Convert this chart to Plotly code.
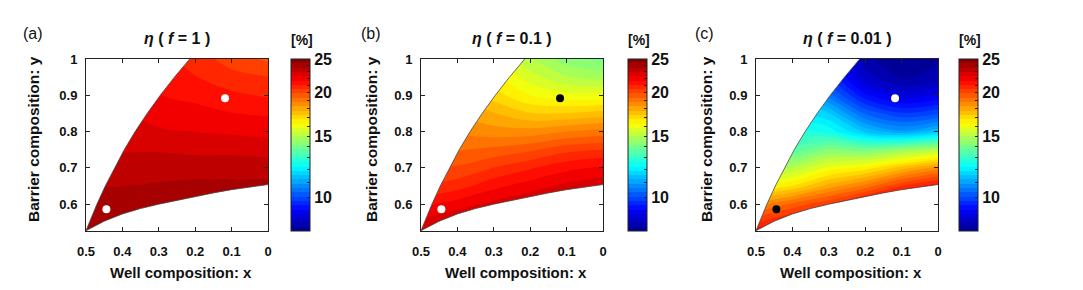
import numpy as np
import plotly.graph_objects as go

# ---------------- data ----------------
XS = [0.0, 0.1, 0.2, 0.3, 0.4, 0.5]                                   # well composition x
YS = [0.50, 0.55, 0.60, 0.65, 0.70, 0.75, 0.80, 0.85, 0.90, 0.95, 1.00]  # barrier composition y

# efficiency eta [%], rows = YS (ascending), columns = XS (ascending)
ETA_F1 = [
    [25.0, 25.0, 25.0, 24.8, 24.6, 24.4],
    [24.8, 24.8, 24.6, 24.5, 24.3, 24.1],
    [24.3, 24.3, 24.2, 24.1, 24.0, 23.9],
    [23.8, 23.8, 23.8, 23.7, 23.6, 23.6],
    [23.3, 23.3, 23.3, 23.3, 23.3, 23.4],
    [22.7, 22.8, 22.8, 22.9, 22.9, 23.1],
    [22.1, 22.2, 22.3, 22.4, 22.6, 22.9],
    [21.6, 21.7, 21.9, 22.0, 22.4, 22.7],
    [21.0, 21.2, 21.5, 21.7, 22.2, 22.5],
    [20.5, 20.7, 21.1, 21.5, 22.0, 22.3],
    [19.8, 20.2, 20.8, 21.3, 21.8, 22.2],
]
ETA_F01 = [
    [25.5, 25.5, 25.0, 24.5, 24.0, 23.5],
    [25.0, 24.5, 24.0, 23.5, 23.0, 22.5],
    [24.0, 23.5, 23.0, 22.5, 22.0, 21.5],
    [22.8, 22.5, 22.0, 21.5, 20.8, 20.5],
    [21.8, 21.5, 21.0, 20.5, 20.0, 20.0],
    [20.5, 20.3, 19.8, 19.5, 19.3, 19.3],
    [19.0, 18.8, 18.5, 18.5, 18.7, 18.8],
    [17.5, 17.3, 17.3, 17.8, 18.2, 18.3],
    [16.0, 16.0, 16.3, 17.0, 17.7, 17.8],
    [14.8, 15.0, 15.6, 16.5, 17.2, 17.3],
    [14.0, 14.3, 15.0, 16.0, 16.8, 17.0],
]
ETA_F001 = [
    [26.0, 26.0, 25.5, 25.0, 24.0, 22.5],
    [25.0, 25.0, 24.0, 23.0, 21.5, 20.5],
    [23.0, 23.0, 22.0, 20.5, 19.5, 18.5],
    [21.5, 20.5, 19.0, 18.0, 16.8, 16.3],
    [18.5, 17.5, 16.5, 16.0, 15.0, 14.5],
    [15.0, 14.5, 14.0, 14.2, 13.5, 13.5],
    [11.5, 11.0, 11.5, 12.5, 12.8, 12.5],
    [10.0, 9.8, 10.3, 11.6, 12.0, 12.0],
    [9.0, 8.8, 9.3, 10.5, 11.5, 11.5],
    [8.3, 8.2, 8.6, 9.8, 11.0, 11.0],
    [8.2, 8.0, 8.3, 9.5, 10.5, 10.5],
]
PANEL_TABLES = [ETA_F1, ETA_F01, ETA_F001]
PANEL_F = ["1", "0.1", "0.01"]
PANEL_TAGS = ["(a)", "(b)", "(c)"]

# boundary of the valid (x, y) region
UPPER_X = [0.500, 0.491, 0.470, 0.447, 0.422, 0.395, 0.365, 0.332, 0.296, 0.257, 0.215]
UPPER_Y = [0.527, 0.550, 0.600, 0.650, 0.700, 0.750, 0.800, 0.850, 0.900, 0.950, 1.000]
LOWER_X = [0.50, 0.45, 0.40, 0.35, 0.30, 0.25, 0.20, 0.15, 0.10, 0.05, 0.00]
LOWER_Y = [0.527, 0.553, 0.573, 0.588, 0.600, 0.611, 0.621, 0.631, 0.640, 0.647, 0.654]

# two marked designs
DOT_X = [0.444, 0.118]
DOT_Y = [0.586, 0.892]
DOT_COLORS = [["white", "white"], ["white", "black"], ["black", "white"]]

X_TICKS = [0.5, 0.4, 0.3, 0.2, 0.1, 0.0]
X_TICKTEXT = ["0.5", "0.4", "0.3", "0.2", "0.1", "0"]
Y_TICKS = [0.6, 0.7, 0.8, 0.9, 1.0]
Y_TICKTEXT = ["0.6", "0.7", "0.8", "0.9", "1"]
CB_MAJOR = [10, 15, 20, 25]
CB_ALL = [9, 10, 11, 12, 13, 14, 15, 16, 17, 18, 19, 20, 21, 22, 23, 24, 25]
CB_MIN, CB_MAX = 8.0, 25.0

# ---------------- layout constants ----------------
W, H = 1083, 290
X_RANGE = [0.5, 0.0]
Y_RANGE = [0.526, 1.0]
PLOT_LEFT = [86, 421, 756]
PLOT_W = 182
PLOT_TOP, PLOT_BOTTOM = 59, 231
CB_LEFT = [291, 628, 959]
CB_W = 19
TAG_X = [33, 371, 704]
YTITLE_X = [33, 371, 706]
FONT = "Liberation Sans, Arial, sans-serif"

JET = [
    [0.0, "rgb(0,0,140)"],
    [0.125, "rgb(0,0,255)"],
    [0.375, "rgb(0,255,255)"],
    [0.625, "rgb(255,255,0)"],
    [0.875, "rgb(255,0,0)"],
    [1.0, "rgb(128,0,0)"],
]

LMIN, LMAX = np.log10(CB_MIN), np.log10(CB_MAX)
NLEV = 40


def fx(p):
    return p / W


def fy(p):
    return 1 - p / H


fig = go.Figure()
annotations = []
layout_axes = {}

for i in range(3):
    sfx = "" if i == 0 else str(i + 1)
    xref, yref = "x" + sfx, "y" + sfx
    z = np.log10(np.array(PANEL_TABLES[i], dtype=float))
    fig.add_trace(go.Contour(
        x=XS, y=YS, z=z, xaxis=xref, yaxis=yref,
        colorscale=JET, zmin=LMIN, zmax=LMAX, zauto=False,
        autocontour=False,
        contours=dict(start=LMIN, end=LMAX, size=(LMAX - LMIN) / NLEV,
                      coloring="fill", showlines=False),
        line=dict(width=0),
        hoverinfo="skip",
        colorbar=dict(
            x=fx(CB_LEFT[i]), xanchor="left", xref="paper",
            y=fy(PLOT_BOTTOM), yanchor="bottom", yref="paper",
            len=(PLOT_BOTTOM - PLOT_TOP) / H, lenmode="fraction",
            thickness=CB_W, thicknessmode="pixels",
            xpad=0, ypad=0,
            outlinewidth=1, outlinecolor="#222",
            tickmode="array",
            tickvals=[np.log10(v) for v in CB_ALL],
            ticktext=[str(v) if v in CB_MAJOR else "" for v in CB_ALL],
            ticks="inside", ticklen=3, tickcolor="#222", tickwidth=1,
            tickfont=dict(family=FONT, size=16, color="#111", weight="bold"),
        ),
    ))
    # white mask above/left of the upper boundary
    mx = UPPER_X + [UPPER_X[-1], X_RANGE[0] + 0.1, X_RANGE[0] + 0.1]
    my = UPPER_Y + [Y_RANGE[1] + 0.1, Y_RANGE[1] + 0.1, Y_RANGE[0] - 0.1]
    fig.add_trace(go.Scatter(x=mx, y=my, xaxis=xref, yaxis=yref, mode="lines",
                             fill="toself", fillcolor="white", line=dict(width=0),
                             hoverinfo="skip", showlegend=False))
    # white mask below the lower boundary
    fig.add_trace(go.Scatter(x=LOWER_X, y=LOWER_Y, xaxis=xref, yaxis=yref, mode="lines",
                             fill="tozeroy", fillcolor="white", line=dict(width=0),
                             hoverinfo="skip", showlegend=False))
    # boundary curves
    for bx, by in [(UPPER_X, UPPER_Y), (LOWER_X, LOWER_Y)]:
        fig.add_trace(go.Scatter(x=bx, y=by, xaxis=xref, yaxis=yref, mode="lines",
                                 line=dict(width=1, color="rgba(70,70,70,0.8)"),
                                 hoverinfo="skip", showlegend=False))
    fig.add_trace(go.Scatter(x=DOT_X, y=DOT_Y, xaxis=xref, yaxis=yref, mode="markers",
                             marker=dict(size=8, color=DOT_COLORS[i], line=dict(width=0)),
                             hoverinfo="skip", showlegend=False))

    axis_common = dict(showline=True, linecolor="#222", linewidth=1, mirror="ticks",
                       ticks="inside", ticklen=4, tickcolor="#222",
                       showgrid=False, zeroline=False, tickmode="array",
                       tickfont=dict(family=FONT, size=13, color="#111", weight="bold"))
    layout_axes["xaxis" + sfx] = dict(
        axis_common, domain=[fx(PLOT_LEFT[i]), fx(PLOT_LEFT[i] + PLOT_W)],
        range=X_RANGE, anchor=yref, tickvals=X_TICKS, ticktext=X_TICKTEXT,
        ticklabelstandoff=8)
    layout_axes["yaxis" + sfx] = dict(
        axis_common, domain=[fy(PLOT_BOTTOM), fy(PLOT_TOP)],
        range=Y_RANGE, anchor=xref, tickvals=Y_TICKS, ticktext=Y_TICKTEXT,
        ticklabelstandoff=5)

    cx = PLOT_LEFT[i] + PLOT_W / 2
    annotations += [
        dict(text=PANEL_TAGS[i], x=fx(TAG_X[i]), y=fy(33), xref="paper", yref="paper",
             showarrow=False, xanchor="center", yanchor="middle",
             font=dict(family=FONT, size=16, color="#111")),
        dict(text="<i>η</i> ( <i>f</i> = " + PANEL_F[i] + " )", x=fx(cx), y=fy(38),
             xref="paper", yref="paper", showarrow=False, xanchor="center", yanchor="middle",
             font=dict(family=FONT, size=16, color="#111", weight="bold")),
        dict(text="[%]", x=fx(CB_LEFT[i] + CB_W / 2 + 1), y=fy(40), xref="paper", yref="paper",
             showarrow=False, xanchor="center", yanchor="middle",
             font=dict(family=FONT, size=14, color="#111", weight="bold")),
        dict(text="Well composition: x", x=fx(cx + 4), y=fy(272), xref="paper", yref="paper",
             showarrow=False, xanchor="center", yanchor="middle",
             font=dict(family=FONT, size=15, color="#111", weight="bold")),
        dict(text="Barrier composition: y", x=fx(YTITLE_X[i]), y=fy(139), xref="paper",
             yref="paper", showarrow=False, xanchor="center", yanchor="middle", textangle=-90,
             font=dict(family=FONT, size=15.5, color="#111", weight="bold")),
    ]

fig.update_layout(
    width=W, height=H, margin=dict(l=0, r=0, t=0, b=0, autoexpand=False),
    paper_bgcolor="white", plot_bgcolor="white",
    showlegend=False, annotations=annotations, **layout_axes,
)
fig.write_html("out.html", config={"displayModeBar": False},
               post_script="document.body.style.margin='0';document.body.style.overflow='hidden';")
